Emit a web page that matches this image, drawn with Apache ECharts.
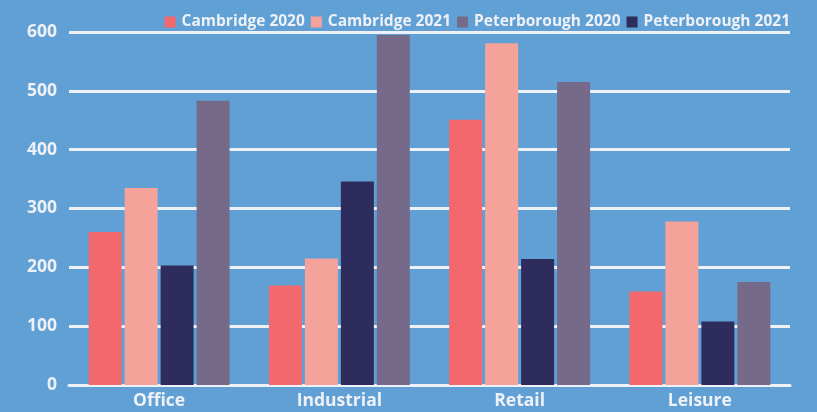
<!DOCTYPE html>
<html>
<head>
<meta charset="utf-8">
<script src="https://cdn.jsdelivr.net/npm/echarts@6/dist/echarts.min.js"></script>
<style>
html,body{margin:0;padding:0;background:#61a0d5;}
#c{width:817px;height:412px;}
</style>
</head>
<body>
<div id="c"></div>
<script>
const categories = ['Office', 'Industrial', 'Retail', 'Leisure'];
const cambridge2020 = [260, 169, 451, 159];
const cambridge2021 = [335, 215, 581, 278];
const peterborough2020 = [483, 595, 515, 175];
const peterborough2021 = [203, 346, 214, 108];
const yTicks = [0, 100, 200, 300, 400, 500, 600];
const legendOrder = ['Cambridge 2020', 'Cambridge 2021', 'Peterborough 2020', 'Peterborough 2021'];

const FONT = '"Open Sans", sans-serif';
const TXT = '#eef1f7';
const LINE = '#eef2f8';

const chart = echarts.init(document.getElementById('c'), null, {renderer: 'canvas'});
function bar(name, data, color) {
  return {
    name: name, type: 'bar', data: data,
    barWidth: 33, barGap: '9%',
    itemStyle: {color: color},
    emphasis: {disabled: true}
  };
}
chart.setOption({
  backgroundColor: '#61a0d5',
  animation: false,
  grid: {left: 69, right: 27, top: 32, bottom: 27, containLabel: false},
  legend: {
    data: legendOrder,
    right: 22, top: 9,
    itemWidth: 11, itemHeight: 11, itemGap: 6,
    icon: 'rect',
    textStyle: {color: TXT, fontFamily: FONT, fontWeight: 'bold', fontSize: 15.5, padding: [0, 0, 0, 1]}
  },
  xAxis: {
    type: 'category', data: categories,
    axisLine: {lineStyle: {color: LINE, width: 3}},
    axisTick: {show: false},
    axisLabel: {color: TXT, fontFamily: FONT, fontWeight: 'bold', fontSize: 17.5, margin: 7}
  },
  yAxis: {
    type: 'value', min: yTicks[0], max: yTicks[yTicks.length - 1], interval: 100,
    axisLine: {show: false}, axisTick: {show: false},
    splitLine: {lineStyle: {color: LINE, width: 3}},
    axisLabel: {color: TXT, fontFamily: FONT, fontWeight: 'bold', fontSize: 17.5, margin: 12}
  },
  series: [
    bar('Cambridge 2020', cambridge2020, '#f2686c'),
    bar('Cambridge 2021', cambridge2021, '#f5a29a'),
    bar('Peterborough 2021', peterborough2021, '#2e2c5c'),
    bar('Peterborough 2020', peterborough2020, '#756a8a')
  ]
});
</script>
</body>
</html>
